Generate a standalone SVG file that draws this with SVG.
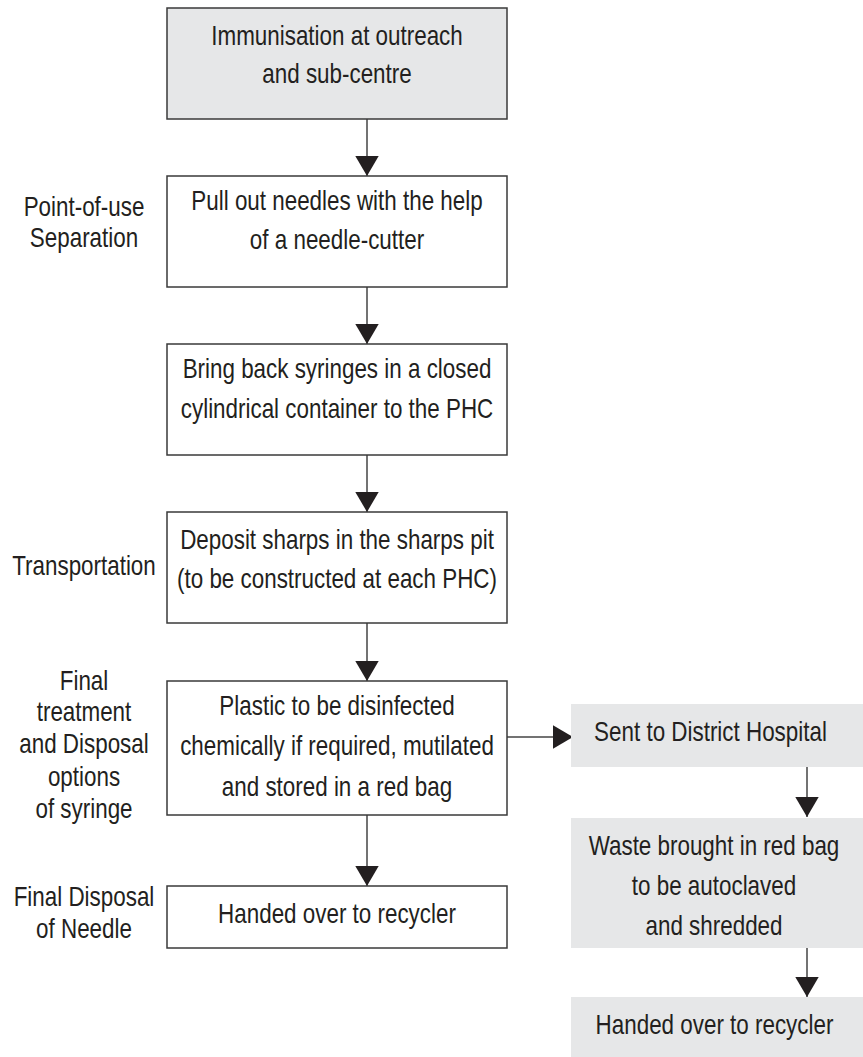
<svg xmlns="http://www.w3.org/2000/svg" width="863" height="1057" viewBox="0 0 863 1057">
<style>
  text { font-family: "Liberation Sans", Arial, sans-serif; font-size: 27px; fill: #231f20; text-anchor: middle; }
  .box { fill: #ffffff; stroke: #3a3a3a; stroke-width: 1.5; }
  .grey { fill: #e6e7e8; stroke: #3a3a3a; stroke-width: 1.5; }
  .side { fill: #e6e7e8; stroke: none; }
  .conn { stroke: #444444; stroke-width: 1.5; fill: none; marker-end: url(#arrow); }
</style>
<defs>
  <marker id="arrow" markerUnits="userSpaceOnUse" markerWidth="21" markerHeight="24" viewBox="0 0 21 24" refX="20" refY="12" orient="auto">
    <path d="M0,0.3 L20,12 L0,23.7 Z" fill="#231f20"/>
  </marker>
</defs>
<rect width="863" height="1057" fill="#ffffff"/>

<g id="connectors">
  <line class="conn" x1="367" y1="119" x2="367" y2="176"/>
  <line class="conn" x1="367" y1="287" x2="367" y2="344"/>
  <line class="conn" x1="367" y1="455" x2="367" y2="512"/>
  <line class="conn" x1="367" y1="623" x2="367" y2="681"/>
  <line class="conn" x1="367" y1="815" x2="367" y2="886"/>
  <line class="conn" x1="507" y1="737" x2="573" y2="737"/>
  <line class="conn" x1="807" y1="767" x2="807" y2="817"/>
  <line class="conn" x1="807" y1="948" x2="807" y2="997"/>
</g>

<g id="n-immunisation">
  <rect class="grey" x="167" y="8" width="340" height="111"/>
  <g transform="translate(337 0) scale(0.83 1)">
    <text x="0" y="45">Immunisation at outreach</text>
    <text x="0" y="83.5">and sub-centre</text>
  </g>
</g>

<g id="n-pullout">
  <rect class="box" x="167" y="176" width="340" height="111"/>
  <g transform="translate(337 0) scale(0.83 1)">
    <text x="0" y="210.5">Pull out needles with the help</text>
    <text x="0" y="249.5">of a needle-cutter</text>
  </g>
</g>

<g id="n-bringback">
  <rect class="box" x="167" y="344" width="340" height="111"/>
  <g transform="translate(337 0) scale(0.83 1)">
    <text x="0" y="378.5">Bring back syringes in a closed</text>
    <text x="0" y="418">cylindrical container to the PHC</text>
  </g>
</g>

<g id="n-deposit">
  <rect class="box" x="167" y="512" width="340" height="111"/>
  <g transform="translate(337 0) scale(0.83 1)">
    <text x="0" y="549.5">Deposit sharps in the sharps pit</text>
    <text x="0" y="588.5">(to be constructed at each PHC)</text>
  </g>
</g>

<g id="n-plastic">
  <rect class="box" x="167" y="681" width="340" height="134"/>
  <g transform="translate(337 0) scale(0.83 1)">
    <text x="0" y="715">Plastic to be disinfected</text>
    <text x="0" y="755.5">chemically if required, mutilated</text>
    <text x="0" y="796">and stored in a red bag</text>
  </g>
</g>

<g id="n-handed-left">
  <rect class="box" x="167" y="886" width="340" height="62"/>
  <g transform="translate(337 0) scale(0.83 1)">
    <text x="0" y="923">Handed over to recycler</text>
  </g>
</g>

<g id="n-sent">
  <rect class="side" x="571" y="704" width="292" height="63"/>
  <g transform="translate(710.5 0) scale(0.83 1)">
    <text x="0" y="741">Sent to District Hospital</text>
  </g>
</g>

<g id="n-waste">
  <rect class="side" x="571" y="818" width="292" height="130"/>
  <g transform="translate(714 0) scale(0.83 1)">
    <text x="0" y="855">Waste brought in red bag</text>
    <text x="0" y="895">to be autoclaved</text>
    <text x="0" y="935">and shredded</text>
  </g>
</g>

<g id="n-handed-right">
  <rect class="side" x="571" y="997" width="292" height="60"/>
  <g transform="translate(714.5 0) scale(0.83 1)">
    <text x="0" y="1034">Handed over to recycler</text>
  </g>
</g>

<g id="labels">
  <g transform="translate(84 0) scale(0.83 1)">
    <text x="0" y="216">Point-of-use</text>
    <text x="0" y="247.5">Separation</text>
    <text x="0" y="575">Transportation</text>
    <text x="0" y="690">Final</text>
    <text x="0" y="721.5">treatment</text>
    <text x="0" y="753.5">and Disposal</text>
    <text x="0" y="786.5">options</text>
    <text x="0" y="818">of syringe</text>
    <text x="0" y="906.5">Final Disposal</text>
    <text x="0" y="938">of Needle</text>
  </g>
</g>
</svg>
